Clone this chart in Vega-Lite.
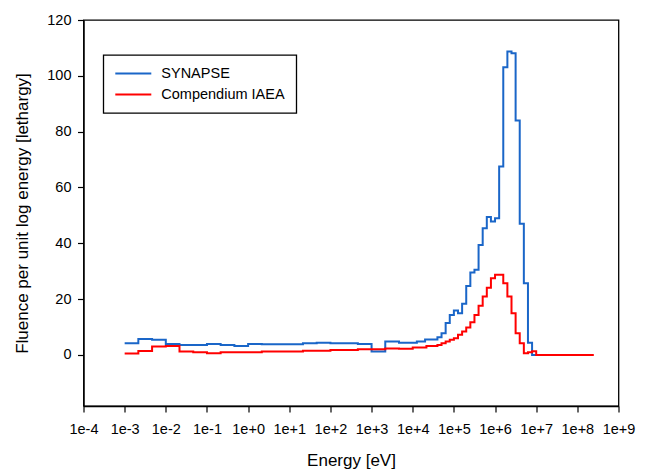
{
  "$schema": "https://vega.github.io/schema/vega-lite/v6.json",
  "width": 535,
  "height": 386,
  "autosize": {"type": "none"},
  "padding": {"left": 83.5, "top": 20, "right": 27.5, "bottom": 64},
  "background": "white",
  "config": {
    "font": "Liberation Sans",
    "view": {"stroke": "#000000", "strokeWidth": 1.3},
    "axis": {
      "domainColor": "#000000",
      "domainWidth": 1.3,
      "tickColor": "#000000",
      "tickWidth": 1.2,
      "tickSize": 6,
      "grid": false,
      "labelColor": "#000000",
      "labelFontSize": 14.5,
      "labelFont": "Liberation Sans",
      "titleColor": "#000000",
      "titleFont": "Liberation Sans",
      "titleFontSize": 17,
      "titleFontWeight": "normal"
    },
    "legend": {"strokeWidth": 1.3}
  },
  "data": {
    "values": [
      {"series": "SYNAPSE", "E": 0.001, "F": 4.2},
      {"series": "SYNAPSE", "E": 0.00215, "F": 5.7},
      {"series": "SYNAPSE", "E": 0.00464, "F": 5.4},
      {"series": "SYNAPSE", "E": 0.01, "F": 3.9},
      {"series": "SYNAPSE", "E": 0.0215, "F": 3.6},
      {"series": "SYNAPSE", "E": 0.0464, "F": 3.6},
      {"series": "SYNAPSE", "E": 0.1, "F": 3.9},
      {"series": "SYNAPSE", "E": 0.215, "F": 3.6},
      {"series": "SYNAPSE", "E": 0.464, "F": 3.2},
      {"series": "SYNAPSE", "E": 1, "F": 3.9},
      {"series": "SYNAPSE", "E": 2.15, "F": 3.8},
      {"series": "SYNAPSE", "E": 4.64, "F": 3.8},
      {"series": "SYNAPSE", "E": 10, "F": 3.8},
      {"series": "SYNAPSE", "E": 21.5, "F": 4.2},
      {"series": "SYNAPSE", "E": 46.4, "F": 4.4},
      {"series": "SYNAPSE", "E": 100, "F": 4.2},
      {"series": "SYNAPSE", "E": 215, "F": 4.2},
      {"series": "SYNAPSE", "E": 464, "F": 3.9},
      {"series": "SYNAPSE", "E": 1000, "F": 1.2},
      {"series": "SYNAPSE", "E": 2150, "F": 4.8},
      {"series": "SYNAPSE", "E": 4640, "F": 4.4},
      {"series": "SYNAPSE", "E": 12600, "F": 4.8},
      {"series": "SYNAPSE", "E": 19950, "F": 5.5},
      {"series": "SYNAPSE", "E": 39800, "F": 6.3},
      {"series": "SYNAPSE", "E": 50100, "F": 7.8},
      {"series": "SYNAPSE", "E": 63100, "F": 11.4},
      {"series": "SYNAPSE", "E": 79400, "F": 14.3},
      {"series": "SYNAPSE", "E": 100000, "F": 15.9},
      {"series": "SYNAPSE", "E": 125900, "F": 14.9},
      {"series": "SYNAPSE", "E": 158500, "F": 18.3},
      {"series": "SYNAPSE", "E": 199500, "F": 24.7},
      {"series": "SYNAPSE", "E": 251200, "F": 29.5},
      {"series": "SYNAPSE", "E": 316200, "F": 30.5},
      {"series": "SYNAPSE", "E": 398100, "F": 39.4},
      {"series": "SYNAPSE", "E": 501200, "F": 45.4},
      {"series": "SYNAPSE", "E": 631000, "F": 49.4},
      {"series": "SYNAPSE", "E": 794300, "F": 47.8},
      {"series": "SYNAPSE", "E": 1000000, "F": 49},
      {"series": "SYNAPSE", "E": 1259000, "F": 67.5},
      {"series": "SYNAPSE", "E": 1585000, "F": 103.1},
      {"series": "SYNAPSE", "E": 1995000, "F": 108.7},
      {"series": "SYNAPSE", "E": 2512000, "F": 108.1},
      {"series": "SYNAPSE", "E": 3162000, "F": 84},
      {"series": "SYNAPSE", "E": 3981000, "F": 47},
      {"series": "SYNAPSE", "E": 5012000, "F": 25.7},
      {"series": "SYNAPSE", "E": 6310000, "F": 4.4},
      {"series": "SYNAPSE", "E": 7943000, "F": 0},
      {"series": "SYNAPSE", "E": 10000000, "F": 0},
      {"series": "Compendium IAEA", "E": 0.001, "F": 0.5},
      {"series": "Compendium IAEA", "E": 0.00215, "F": 1.4},
      {"series": "Compendium IAEA", "E": 0.00464, "F": 3.0},
      {"series": "Compendium IAEA", "E": 0.01, "F": 3.2},
      {"series": "Compendium IAEA", "E": 0.0215, "F": 1.2},
      {"series": "Compendium IAEA", "E": 0.0464, "F": 0.95},
      {"series": "Compendium IAEA", "E": 0.1, "F": 0.6},
      {"series": "Compendium IAEA", "E": 0.215, "F": 0.95},
      {"series": "Compendium IAEA", "E": 2.15, "F": 1.2},
      {"series": "Compendium IAEA", "E": 21.5, "F": 1.5},
      {"series": "Compendium IAEA", "E": 100, "F": 1.8},
      {"series": "Compendium IAEA", "E": 464, "F": 2.0},
      {"series": "Compendium IAEA", "E": 2150, "F": 2.3},
      {"series": "Compendium IAEA", "E": 4640, "F": 2.2},
      {"series": "Compendium IAEA", "E": 10000, "F": 2.7},
      {"series": "Compendium IAEA", "E": 21500, "F": 3.2},
      {"series": "Compendium IAEA", "E": 39800, "F": 3.6},
      {"series": "Compendium IAEA", "E": 50100, "F": 4.2},
      {"series": "Compendium IAEA", "E": 63100, "F": 4.8},
      {"series": "Compendium IAEA", "E": 79400, "F": 5.4},
      {"series": "Compendium IAEA", "E": 100000, "F": 6.0},
      {"series": "Compendium IAEA", "E": 125900, "F": 7.2},
      {"series": "Compendium IAEA", "E": 158500, "F": 8.4},
      {"series": "Compendium IAEA", "E": 199500, "F": 9.8},
      {"series": "Compendium IAEA", "E": 251200, "F": 11.7},
      {"series": "Compendium IAEA", "E": 316200, "F": 14.3},
      {"series": "Compendium IAEA", "E": 398100, "F": 17.6},
      {"series": "Compendium IAEA", "E": 501200, "F": 20.9},
      {"series": "Compendium IAEA", "E": 631000, "F": 24.1},
      {"series": "Compendium IAEA", "E": 794300, "F": 27.5},
      {"series": "Compendium IAEA", "E": 1000000, "F": 28.7},
      {"series": "Compendium IAEA", "E": 1585000, "F": 25.7},
      {"series": "Compendium IAEA", "E": 1995000, "F": 20.9},
      {"series": "Compendium IAEA", "E": 2512000, "F": 14.9},
      {"series": "Compendium IAEA", "E": 3162000, "F": 7.8},
      {"series": "Compendium IAEA", "E": 3981000, "F": 4.2},
      {"series": "Compendium IAEA", "E": 5012000, "F": 0.6},
      {"series": "Compendium IAEA", "E": 6310000, "F": 1.0},
      {"series": "Compendium IAEA", "E": 7943000, "F": 1.3},
      {"series": "Compendium IAEA", "E": 10000000, "F": 0},
      {"series": "Compendium IAEA", "E": 251200000, "F": 0}
    ]
  },
  "mark": {"type": "line", "interpolate": "step-after", "strokeWidth": 2},
  "encoding": {
    "x": {
      "field": "E",
      "type": "quantitative",
      "scale": {"type": "log", "domain": [0.0001, 1000000000], "nice": false},
      "axis": {
        "title": "Energy [eV]",
        "values": [0.0001, 0.001, 0.01, 0.1, 1, 10, 100, 1000, 10000, 100000, 1000000, 10000000, 100000000, 1000000000],
        "labelExpr": "'1e' + (datum.value >= 1 ? '+' : '') + round(log(datum.value) / LN10)",
        "labelPadding": 10,
        "labelOverlap": false,
        "labelFlush": false,
        "titlePadding": 17
      }
    },
    "y": {
      "field": "F",
      "type": "quantitative",
      "scale": {"domain": [-18.3, 120], "nice": false, "zero": false},
      "axis": {
        "title": "Fluence per unit log energy [lethargy]",
        "values": [0, 20, 40, 60, 80, 100, 120],
        "labelPadding": 6.5,
        "titlePadding": 15
      }
    },
    "color": {
      "field": "series",
      "type": "nominal",
      "sort": ["SYNAPSE", "Compendium IAEA"],
      "scale": {"domain": ["SYNAPSE", "Compendium IAEA"], "range": ["#1a66c8", "#ff0000"]},
      "legend": {
        "title": null,
        "orient": "none",
        "legendX": 19.8,
        "legendY": 35,
        "padding": 11,
        "strokeColor": "#000000",
        "fillColor": "#ffffff",
        "symbolType": "stroke",
        "symbolSize": 1296,
        "symbolStrokeWidth": 2,
        "clipHeight": 15,
        "labelFontSize": 14.5,
        "labelColor": "#000000",
        "labelOffset": 9,
        "rowPadding": 5
      }
    }
  }
}
